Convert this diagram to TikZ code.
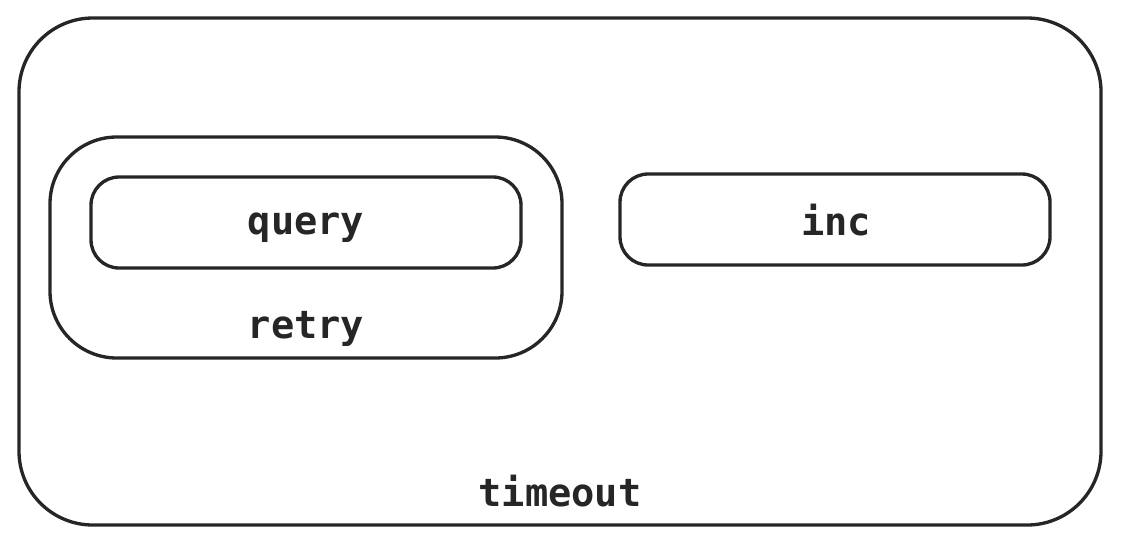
\documentclass[tikz,border=0pt]{standalone}
\usepackage{fontspec}
\setmonofont{DejaVu Sans Mono}
\tikzset{
	kasten/.style={line width=1.9pt, draw=black!85},
	beschriftung/.style={font=\fontsize{22}{26}\selectfont\ttfamily\bfseries, text=black!85, inner sep=0pt}
}
\begin{document}
\begin{tikzpicture}[x=0.02cm, y=-0.02cm]
	\useasboundingbox (0, 0) rectangle (1121, 545);
	% Rahmen aussen
	\draw[kasten, rounded corners=42] (19, 18) rectangle (1101, 525);
	\node[beschriftung] (timeout) at (560, 491) {timeout};
	% Wiederholung
	\draw[kasten, rounded corners=38] (50, 137) rectangle (562, 358);
	\node[beschriftung] (retry) at (306, 329) {retry};
	% Innere Kaesten
	\draw[kasten, rounded corners=16] (91, 177) rectangle (521, 268);
	\node[beschriftung] (query) at (306, 228) {query};
	\draw[kasten, rounded corners=16] (620, 174) rectangle (1050, 265);
	\node[beschriftung] (inc) at (836, 220) {inc};
\end{tikzpicture}
\end{document}
